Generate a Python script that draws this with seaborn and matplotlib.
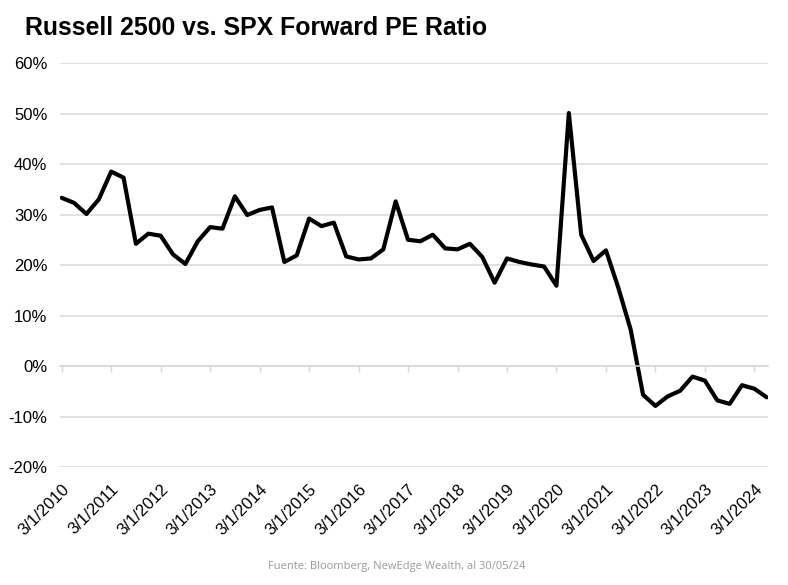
import seaborn as sns
import matplotlib.pyplot as plt
import pandas as pd

# quarterly readings, Q1 2010 .. Q2 2024 (percent)
quarters = [f"{y}Q{q}" for y in range(2010, 2025) for q in range(1, 5)][:58]
pe_spread = [
    33.3, 32.3, 30.1, 33.0, 38.5, 37.3, 24.2, 26.2, 25.8, 22.1,
    20.2, 24.7, 27.5, 27.2, 33.6, 29.9, 30.9, 31.4, 20.6, 21.9,
    29.2, 27.7, 28.4, 21.7, 21.1, 21.3, 23.1, 32.6, 25.0, 24.7,
    26.0, 23.3, 23.1, 24.2, 21.6, 16.5, 21.3, 20.6, 20.1, 19.7,
    15.9, 50.1, 26.0, 20.8, 22.9, 15.5, 7.2, -5.7, -7.9, -6.0,
    -4.9, -2.1, -2.9, -6.8, -7.5, -3.8, -4.5, -6.2,
]
tick_labels = ["3/1/2010", "3/1/2011", "3/1/2012", "3/1/2013", "3/1/2014",
               "3/1/2015", "3/1/2016", "3/1/2017", "3/1/2018", "3/1/2019",
               "3/1/2020", "3/1/2021", "3/1/2022", "3/1/2023", "3/1/2024"]
y_ticks = [-20, -10, 0, 10, 20, 30, 40, 50, 60]

df = pd.DataFrame({"pos": range(len(pe_spread)), "quarter": quarters, "spread": pe_spread})

sns.set_style("white")
plt.rcParams['font.family'] = ['Liberation Sans', 'DejaVu Sans']

fig = plt.figure(figsize=(7.88, 5.85), dpi=100)
ax = fig.add_axes([0.0761, 0.2017, 0.8985, 0.6906])

sns.lineplot(data=df, x="pos", y="spread", color="black", linewidth=3.0, ax=ax)

# x axis line sits on the 0% level
for s in ["top", "right", "left"]:
    ax.spines[s].set_visible(False)
ax.spines["bottom"].set_position(("data", 0))
ax.spines["bottom"].set_color("#d9d9d9")
ax.spines["bottom"].set_linewidth(1.1)

ax.set_ylim(-20, 60)
ax.set_xlim(-0.14, 57.1)
ax.set_yticks(y_ticks)
ax.set_yticklabels([f"{t}%" for t in y_ticks])
ax.yaxis.grid(True, color="#d9d9d9", linewidth=1.1)
ax.set_axisbelow(True)

ax.set_xticks(range(0, len(pe_spread), 4))
ax.set_xticklabels(tick_labels, rotation=45, ha="right", rotation_mode="anchor")

ax.tick_params(axis="y", length=0, pad=9, labelsize=12, labelcolor="black")
ax.tick_params(axis="x", length=4, width=1, color="#d9d9d9", direction="out",
               bottom=True, pad=79, labelsize=12, labelcolor="black")
ax.set_xlabel("")
ax.set_ylabel("")

fig.text(0.032, 0.952, "Russell 2500 vs. SPX Forward PE Ratio", fontsize=17.9,
         fontweight="bold", color="black", ha="left", va="center")
fig.text(0.504, 0.031, "Fuente: Bloomberg, NewEdge Wealth, al 30/05/24",
         fontsize=8, color="#9a9a9a", ha="center", va="center",
         family=["Open Sans", "DejaVu Sans"])

fig.savefig("out.png", dpi=100)
